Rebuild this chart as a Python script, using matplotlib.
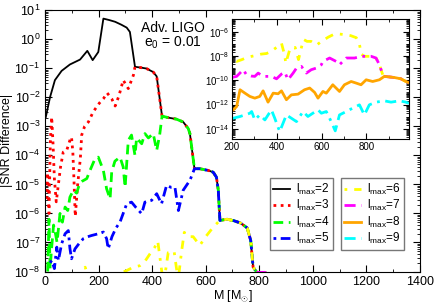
import numpy as np
import matplotlib
matplotlib.use('Agg')
import matplotlib.pyplot as plt
from matplotlib.ticker import MultipleLocator, LogLocator, FixedLocator, NullFormatter

plt.rcParams['font.family'] = ['Liberation Sans', 'DejaVu Sans']
plt.rcParams['mathtext.fontset'] = 'custom'
plt.rcParams['mathtext.rm'] = 'Liberation Sans'
plt.rcParams['mathtext.it'] = 'Liberation Sans:italic'
plt.rcParams['mathtext.bf'] = 'Liberation Sans:bold'

# total mass M [Msun] and log10 |SNR difference|
# lmax=2 (also the common tail every other curve joins)
m2 = [3, 19, 37, 62, 93, 131, 158, 178, 199, 218, 240, 262, 285, 305, 317, 336,
      360, 379, 404, 417, 437, 460, 490, 516, 535, 541, 558, 578, 610, 628, 640,
      647, 653, 680, 705, 730, 755, 768, 777, 791, 821, 843, 858, 873, 880, 924,
      954, 976, 990]
log2 = [-2.68, -1.99, -1.41, -1.09, -0.87, -0.70, -0.40, -0.72, -0.44, 0.71, 0.66,
        0.60, 0.50, 0.40, 0.25, -0.95, -0.98, -1.01, -1.13, -1.28, -2.65, -2.70,
        -2.75, -2.85, -3.08, -3.25, -4.46, -4.46, -4.52, -4.58, -4.75, -5.20, -6.24,
        -6.20, -6.25, -6.33, -6.50, -6.93, -7.85, -8.03, -8.03, -8.17, -8.72, -9.55,
        -9.68, -9.77, -9.88, -10.10, -10.20]

# lmax=3 (joins lmax=2 at M=336)
m3 = [5, 10, 15, 20, 25, 30, 35, 42, 50, 58, 68, 81, 93, 99, 104, 108, 113, 122,
      132, 137, 148, 162, 180, 203, 218, 232, 249, 262, 276, 292, 311, 330]
log3 = [-5.5, -4.6, -6.0, -3.5, -2.68, -3.6, -4.8, -5.6, -5.0, -4.4, -3.89, -3.83,
        -3.48, -3.37, -3.9, -4.8, -6.1, -5.0, -4.1, -3.3, -3.0, -2.85, -2.5, -2.2,
        -2.05, -1.85, -2.05, -2.3, -1.95, -1.41, -1.70, -1.24]

# lmax=4 (joins at M=437)
m4 = [10, 15, 19, 25, 32, 37, 45, 56, 65, 75, 85, 93, 106, 118, 130, 137, 156, 168,
      187, 199, 218, 230, 243, 249, 261, 280, 292, 299, 311, 323, 336, 342, 361,
      373, 386, 404, 417, 428]
log4 = [-8.0, -6.2, -7.9, -7.16, -6.4, -6.59, -7.0, -6.0, -6.3, -5.78, -5.9, -5.44,
        -5.2, -5.3, -4.95, -4.9, -4.8, -4.52, -4.11, -4.06, -4.52, -5.15, -5.5, -4.57,
        -4.2, -4.06, -4.4, -5.1, -3.48, -3.3, -4.0, -3.4, -3.6, -3.25, -3.4, -3.25,
        -3.83, -3.3]

# lmax=5 (joins at M=558)
m5 = [19, 25, 35, 44, 50, 62, 75, 87, 93, 99, 112, 131, 143, 160, 174, 199, 218,
      230, 236, 250, 265, 280, 305, 323, 340, 361, 373, 398, 417, 435, 454, 470,
      485, 498, 516, 541, 548]
log5 = [-7.7, -7.62, -7.9, -7.16, -7.62, -7.05, -6.7, -6.59, -7.2, -7.56, -7.22,
        -6.99, -6.87, -6.8, -6.76, -6.70, -6.64, -6.87, -7.22, -6.8, -6.5, -6.3,
        -5.67, -5.61, -5.8, -6.01, -5.61, -5.55, -5.32, -5.67, -5.03, -5.1, -5.09,
        -5.9, -5.2, -4.86, -4.7]

# lmax=6 (joins at M=653)
m6 = [100, 130, 150, 165, 185, 206, 221, 243, 272, 302, 330, 354, 373, 392, 410,
      421, 436, 440, 460, 482, 497, 510, 520, 535, 553, 578, 600, 630]
log6 = [-8.6, -8.1, -7.85, -8.3, -8.1, -8.31, -8.45, -8.31, -8.09, -7.98, -7.85,
        -7.8, -7.65, -7.39, -7.16, -6.95, -8.0, -8.6, -7.35, -7.3, -8.3, -7.3, -6.65,
        -6.8, -6.8, -7.1, -6.8, -6.45]

# lmax=7 (joins at M=791)
m7 = [200, 206, 221, 243, 250, 265, 285, 302, 317, 332, 347, 376, 399, 421, 436,
      450, 473, 488, 510, 532, 554, 576, 599, 606, 636, 665, 680, 710, 747, 775]
log7 = [-9.8, -9.74, -9.68, -9.27, -9.13, -9.55, -9.65, -9.68, -9.41, -9.6, -9.68,
        -9.68, -9.88, -9.49, -9.33, -9.96, -9.41, -9.0, -8.86, -9.41, -9.13, -9.0,
        -8.72, -8.45, -8.17, -8.45, -8.72, -8.17, -8.17, -8.05]

# lmax=8 (joins at M=880)
m8 = [200, 206, 221, 236, 243, 258, 280, 302, 324, 339, 361, 384, 406, 421, 443,
      465, 495, 524, 547, 569, 584, 606, 621, 650, 680, 702, 732, 754, 776, 799,
      828, 858]
log8 = [-12.5, -12.43, -12.16, -10.78, -10.87, -11.06, -11.33, -11.47, -11.33,
        -10.87, -11.8, -11.06, -11.11, -10.87, -11.6, -11.2, -11.14, -10.78, -10.64,
        -11.0, -11.47, -10.92, -11.06, -10.37, -10.92, -10.37, -10.1, -10.23, -10.37,
        -9.96, -10.1, -9.96]

# lmax=9
m9 = [200, 206, 236, 258, 280, 288, 302, 324, 347, 376, 391, 413, 443, 465, 488,
      517, 539, 561, 584, 599, 621, 643, 661, 680, 710, 739, 769, 791, 813, 843,
      880, 910, 947, 976, 990]
log9 = [-13.15, -13.12, -12.98, -12.85, -12.71, -12.57, -13.26, -12.85, -13.26,
        -12.43, -13.12, -14.22, -12.85, -13.12, -13.4, -12.57, -12.98, -12.71, -12.43,
        -12.71, -12.57, -13.4, -14.16, -12.85, -12.57, -12.29, -12.02, -12.85, -12.02,
        -11.8, -11.69, -11.8, -11.69, -11.8, -11.9]

join_at = {3: 336, 4: 437, 5: 558, 6: 653, 7: 791, 8: 880}
own = {3: (m3, log3), 4: (m4, log4), 5: (m5, log5), 6: (m6, log6),
       7: (m7, log7), 8: (m8, log8)}

base_m = np.array(m2)
base_v = np.array(log2)
curves = {2: (base_m, 10 ** base_v)}
for l, (mm, vv) in own.items():
    keep = base_m >= join_at[l]
    x = np.concatenate([mm, base_m[keep]])
    y = np.concatenate([vv, base_v[keep]])
    curves[l] = (x, 10 ** y)
curves[9] = (np.array(m9), 10 ** np.array(log9))

styles = {
    2: dict(color='black', ls='-', lw=1.3),
    3: dict(color='red', ls=(0, (1, 1.6)), lw=2),
    4: dict(color='#00ff00', ls=(0, (3.5, 2)), lw=2),
    5: dict(color='blue', ls=(0, (1, 1.6, 3.5, 1.6)), lw=2),
    6: dict(color='yellow', ls=(0, (1, 2.5, 3, 2.5)), lw=2),
    7: dict(color='magenta', ls=(0, (4, 2, 1, 2)), lw=2),
    8: dict(color='#ffa500', ls='-', lw=2),
    9: dict(color='cyan', ls=(0, (4, 2, 4, 2, 1, 2)), lw=2),
}

fig = plt.figure(figsize=(4.36, 3.06), dpi=100)
ax = fig.add_axes([0.1032, 0.1127, 0.8601, 0.854])

lines = []
for l in range(2, 10):
    x, y = curves[l]
    ln, = ax.plot(x, y, dash_capstyle='butt', label=r'l$_{\rm max}$=%d' % l, **styles[l])
    lines.append(ln)

ax.set_yscale('log')
ax.set_xlim(0, 1400)
ax.set_ylim(1e-8, 10)
ax.xaxis.set_major_locator(MultipleLocator(200))
ax.xaxis.set_minor_locator(MultipleLocator(100))
ax.yaxis.set_major_locator(LogLocator(base=10, numticks=20))
ax.yaxis.set_minor_locator(LogLocator(base=10, subs=np.arange(2, 10), numticks=20))
ax.yaxis.set_minor_formatter(NullFormatter())
ax.tick_params(which='both', direction='in', top=True, right=True, labelsize=9)
ax.tick_params(which='major', length=5)
ax.tick_params(which='minor', length=2.5)
ax.set_xlabel(r'M [M$_{\odot}$]', fontsize=9, labelpad=0)
ax.set_ylabel('|SNR Difference|', fontsize=9, labelpad=1)

fig.text(0.397, 0.91, 'Adv. LIGO', ha='center', va='center', fontsize=10)
fig.text(0.397, 0.86, r'e$_0$ = 0.01', ha='center', va='center', fontsize=10)

leg_kw = dict(loc='upper left', bbox_transform=fig.transFigure, fontsize=8.5,
              frameon=True, fancybox=False, edgecolor='#777777', framealpha=1,
              handlelength=1.4, handletextpad=0.5, labelspacing=0.12,
              borderpad=0.3, borderaxespad=0)
leg1 = ax.legend(lines[:4], [ln.get_label() for ln in lines[:4]],
                 bbox_to_anchor=(0.619, 0.418), **leg_kw)
ax.add_artist(leg1)
leg2 = ax.legend(lines[4:], [ln.get_label() for ln in lines[4:]],
                 bbox_to_anchor=(0.782, 0.418), **leg_kw)
for lg in (leg1, leg2):
    lg.get_frame().set_linewidth(1.0)

# inset with lmax = 6..9
ins = fig.add_axes([0.532, 0.546, 0.406, 0.392])
for l in range(6, 10):
    x, y = curves[l]
    ins.plot(x, y, dash_capstyle='butt', **styles[l])
ins.set_yscale('log')
ins.set_xlim(200, 990)
ins.set_ylim(1.5e-15, 1.1e-5)
ins.xaxis.set_major_locator(MultipleLocator(200))
ins.xaxis.set_minor_locator(MultipleLocator(100))
ins.yaxis.set_major_locator(FixedLocator([1e-14, 1e-12, 1e-10, 1e-8, 1e-6]))
ins.yaxis.set_minor_locator(LogLocator(base=10, subs=np.arange(1, 10), numticks=30))
ins.yaxis.set_minor_formatter(NullFormatter())
ins.tick_params(which='both', direction='in', top=True, right=True, labelsize=7, pad=2)
ins.tick_params(which='major', length=4)
ins.tick_params(which='minor', length=2)

fig.savefig('out.png', dpi=100)
